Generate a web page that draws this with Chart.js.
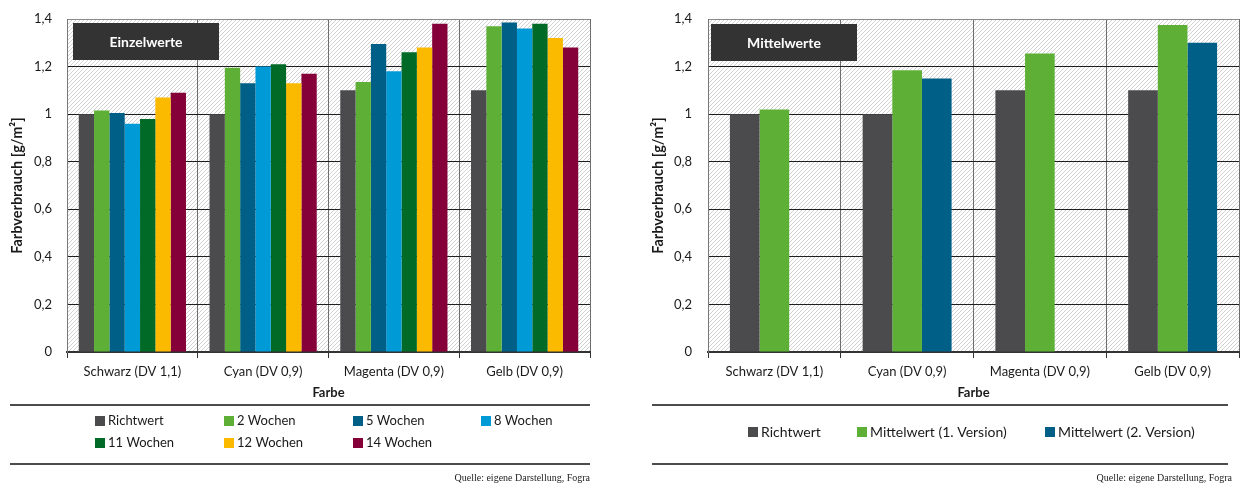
<!DOCTYPE html>
<html>
<head>
<meta charset="utf-8">
<script src="https://cdn.jsdelivr.net/npm/chart.js@4.4.1/dist/chart.umd.min.js"></script>
<style>
  body { margin: 0; background: #fff; }
  #wrap { position: relative; width: 1240px; height: 484px; }
  canvas { position: absolute; top: 0; }
</style>
</head>
<body>
<div id="wrap">
  <canvas id="chartEinzel" width="620" height="484" style="left:0"></canvas>
  <canvas id="chartMittel" width="620" height="484" style="left:620px"></canvas>
</div>
<script>
// Farbverbrauch je Farbe in g/m²
var farben      = ["Schwarz (DV 1,1)", "Cyan (DV 0,9)", "Magenta (DV 0,9)", "Gelb (DV 0,9)"];
var richtwert   = [1.00, 1.00, 1.10, 1.10];
var wochen2     = [1.015, 1.195, 1.135, 1.37];
var wochen5     = [1.005, 1.13, 1.295, 1.385];
var wochen8     = [0.96, 1.20, 1.18, 1.36];
var wochen11    = [0.98, 1.21, 1.26, 1.38];
var wochen12    = [1.07, 1.13, 1.28, 1.32];
var wochen14    = [1.09, 1.17, 1.38, 1.28];
var mittelwert1 = [1.02, 1.185, 1.255, 1.375];
var mittelwert2 = [null, 1.15, null, 1.30];
var yBeschriftung = ["0", "0,2", "0,4", "0,6", "0,8", "1", "1,2", "1,4"];

Chart.defaults.font.family = "Lato";
Chart.defaults.color = "#1a1a1a";

// schraffierter Hintergrund der Zeichenfläche
function schraffur(ctx) {
    var c = document.createElement("canvas");
    c.width = 4; c.height = 4;
    var g = c.getContext("2d");
    g.fillStyle = "#ffffff";
    g.fillRect(0, 0, 4, 4);
    g.fillStyle = "#d2d2d2";
    for (var x = 0; x < 4; x++) g.fillRect(x, 3 - x, 1, 1);
    return ctx.createPattern(c, "repeat");
}

const hintergrund = {
    id: "hintergrund",
    beforeDraw: (chart) => {
        const {ctx, chartArea: a} = chart;
        ctx.save();
        ctx.fillStyle = "white";
        ctx.fillRect(0, 0, chart.width, chart.height);
        ctx.fillStyle = schraffur(ctx);
        ctx.fillRect(a.left, a.top, a.right - a.left, a.bottom - a.top);
        ctx.restore();
    }
};

// dunkler Kasten mit Überschrift oben links
const titelBox = {
    id: "titelBox",
    afterDatasetsDraw: (chart, args, o) => {
        const {ctx, chartArea: a} = chart;
        ctx.save();
        ctx.fillStyle = "#333333";
        ctx.fillRect(a.left + o.dx, a.top + o.dy, 146, 37);
        ctx.fillStyle = "#ffffff";
        ctx.font = "bold 14px Lato";
        ctx.textAlign = "center";
        ctx.textBaseline = "middle";
        ctx.fillText(o.text, a.left + o.dx + 73, a.top + o.dy + 19);
        ctx.restore();
    }
};

// Legende zwischen zwei Linien, darunter die Quelle
const fussLegende = {
    id: "fussLegende",
    afterDraw: (chart, args, o) => {
        const ctx = chart.ctx;
        const ds = chart.data.datasets;
        ctx.save();
        ctx.strokeStyle = "#111";
        ctx.lineWidth = 1.3;
        [o.linieOben, o.linieUnten].forEach(function(y) {
            ctx.beginPath();
            ctx.moveTo(o.links, y);
            ctx.lineTo(o.rechts, y);
            ctx.stroke();
        });
        ctx.font = o.schrift;
        ctx.textBaseline = "middle";
        ctx.textAlign = "left";
        ds.forEach(function(d, i) {
            var x = o.spaltenX[i % o.spaltenX.length];
            var y = o.zeilenY[Math.floor(i / o.spaltenX.length)];
            ctx.fillStyle = d.backgroundColor;
            ctx.fillRect(x, y - 5, 10, 10);
            ctx.fillStyle = "#1a1a1a";
            ctx.fillText(d.label, x + 13, y);
        });
        ctx.font = "10px 'Liberation Serif'";
        ctx.textAlign = "right";
        ctx.fillStyle = "#222";
        ctx.fillText("Quelle: eigene Darstellung, Fogra", o.quelleX, o.quelleY);
        ctx.restore();
    }
};

function achsen(yBreite, yTitelAbstand, tickAbstand) {
    return {
        x: {
            grid: { offset: true, color: "#6e6e6e", tickLength: 6, tickColor: "#333" },
            border: { color: "#333", width: 2 },
            ticks: { font: { size: 13 }, padding: 6 },
            title: { display: true, text: "Farbe", font: { size: 13, weight: "bold" }, padding: { bottom: 83 } },
            afterFit: (s) => { s.height = 132; s.paddingLeft = 0; s.paddingRight = 0; }
        },
        y: {
            min: 0, max: 1.4,
            ticks: { stepSize: 0.2, font: { size: 13 }, padding: tickAbstand,
                     callback: (v, i) => yBeschriftung[i] },
            grid: { drawTicks: false,
                    color: (c) => (c.tick && c.tick.value >= 1.39) ? "#8a8a8a" : "#1e1e1e" },
            border: { color: "#777" },
            title: { display: true, text: "Farbverbrauch [g/m²]", font: { size: 14.5, weight: "bold" },
                     padding: { top: yTitelAbstand } },
            // feste Breite, kein zusätzlicher Rand oben/unten durch die Beschriftung
            afterFit: (s) => { s.width = yBreite; s.paddingTop = 0; s.paddingBottom = 0; }
        }
    };
}

function serie(label, werte, farbe) {
    return { label: label, data: werte, backgroundColor: farbe, borderWidth: 0 };
}

new Chart(document.getElementById("chartEinzel"), {
    type: "bar",
    plugins: [hintergrund, titelBox, fussLegende],
    data: {
        labels: farben,
        datasets: [
            serie("Richtwert", richtwert, "#4b4a4d"),
            serie("2 Wochen", wochen2, "#5db035"),
            serie("5 Wochen", wochen5, "#005f87"),
            serie("8 Wochen", wochen8, "#009ad6"),
            serie("11 Wochen", wochen11, "#006a26"),
            serie("12 Wochen", wochen12, "#fbba00"),
            serie("14 Wochen", wochen14, "#850038")
        ]
    },
    options: {
        responsive: false,
        animation: false,
        devicePixelRatio: 1,
        layout: { padding: { left: 0, right: 30, top: 19, bottom: 0 } },
        datasets: { bar: { barPercentage: 1, categoryPercentage: 0.82 } },
        scales: achsen(67, 9, 15),
        plugins: {
            legend: { display: false },
            tooltip: { enabled: false },
            titelBox: { text: "Einzelwerte", dx: 6, dy: 4 },
            fussLegende: { links: 10, rechts: 590, linieOben: 405, linieUnten: 464,
                           schrift: "13px Lato", spaltenX: [95, 224, 353, 481], zeilenY: [421, 443],
                           quelleX: 590, quelleY: 478 }
        }
    }
});

new Chart(document.getElementById("chartMittel"), {
    type: "bar",
    plugins: [hintergrund, titelBox, fussLegende],
    data: {
        labels: farben,
        datasets: [
            serie("Richtwert", richtwert, "#4b4a4d"),
            serie("Mittelwert (1. Version)", mittelwert1, "#5db035"),
            serie("Mittelwert (2. Version)", mittelwert2, "#005f87")
        ]
    },
    options: {
        responsive: false,
        animation: false,
        devicePixelRatio: 1,
        layout: { padding: { left: 0, right: 1, top: 19, bottom: 0 } },
        datasets: { bar: { barPercentage: 1, categoryPercentage: 0.67 } },
        scales: achsen(88, 30, 16),
        plugins: {
            legend: { display: false },
            tooltip: { enabled: false },
            titelBox: { text: "Mittelwerte", dx: 3, dy: 5 },
            fussLegende: { links: 32, rechts: 608, linieOben: 405, linieUnten: 464,
                           schrift: "14px Lato", spaltenX: [128, 237, 425], zeilenY: [432],
                           quelleX: 612, quelleY: 478 }
        }
    }
});
</script>
</body>
</html>
